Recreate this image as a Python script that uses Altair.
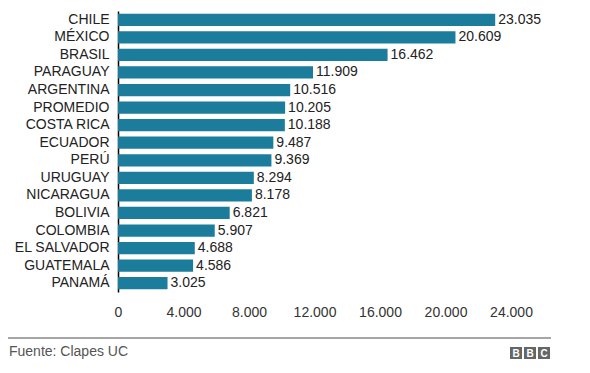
import altair as alt
import pandas as pd

paises = ["CHILE", "MÉXICO", "BRASIL", "PARAGUAY", "ARGENTINA", "PROMEDIO",
          "COSTA RICA", "ECUADOR", "PERÚ", "URUGUAY", "NICARAGUA", "BOLIVIA",
          "COLOMBIA", "EL SALVADOR", "GUATEMALA", "PANAMÁ"]
valores = [23035, 20609, 16462, 11909, 10516, 10205, 10188, 9487, 9369,
           8294, 8178, 6821, 5907, 4688, 4586, 3025]
ticks = [0, 4000, 8000, 12000, 16000, 20000, 24000]
fuente = "Fuente: Clapes UC"
logo = ["B", "B", "C"]

df = pd.DataFrame({"pais": paises, "valor": valores})
df["etiqueta"] = [f"{v:,}".replace(",", ".") for v in valores]

FONT = "Liberation Sans"
FS = 14
W, H = 393, 281

x = alt.X("valor:Q", scale=alt.Scale(domain=[0, 24000], nice=False),
          axis=alt.Axis(values=ticks, title=None, grid=False, domain=False, ticks=False,
                        labelFlush=False, labelOverlap=False,
                        labelPadding=13, labelFontSize=FS, labelColor="#333",
                        labelFont=FONT, labelExpr="replace(format(datum.value, ',d'), ',', '.')"))
y = alt.Y("pais:N", sort=paises, scale=alt.Scale(paddingInner=0.3, paddingOuter=0.15),
          axis=alt.Axis(title=None, ticks=False, domainColor="#000", domainWidth=1.5,
                        labelPadding=9, labelFontSize=FS, labelColor="#222", labelFont=FONT))

base = alt.Chart(df)
bars = base.mark_bar(color="#1b7c9c").encode(x=x, y=y)
labels = base.mark_text(align="left", baseline="middle", dx=3, fontSize=FS,
                        font=FONT, color="#222").encode(
    x="valor:Q", y=alt.Y("pais:N", sort=paises), text="etiqueta:N")

rule = alt.Chart(pd.DataFrame({"a": [0]})).mark_rule(color="#888", strokeWidth=1.5).encode(
    x=alt.value(-110), x2=alt.value(433), y=alt.value(327))
src = alt.Chart(pd.DataFrame({"t": [fuente]})).mark_text(
    align="left", baseline="middle", fontSize=FS, font=FONT, color="#555").encode(
    x=alt.value(-109), y=alt.value(341), text="t:N")

logo_df = pd.DataFrame({"l": logo, "i": list(range(len(logo)))})
logo_df["x0"] = 392 + logo_df["i"] * 14
logo_df["x1"] = logo_df["x0"] + 12
logo_df["xc"] = logo_df["x0"] + 6
boxes = alt.Chart(logo_df).mark_rect(color="#666").encode(
    x=alt.X("x0:Q", scale=None), x2="x1:Q", y=alt.value(336), y2=alt.value(348))
letters = alt.Chart(logo_df).mark_text(color="white", fontSize=10, fontWeight="bold",
                                       font=FONT, baseline="middle").encode(
    x=alt.X("xc:Q", scale=None), y=alt.value(342.5), text="l:N")

chart = alt.layer(bars, labels, rule, src, boxes, letters).properties(
    width=W, height=H,
    autosize=alt.AutoSizeParams(type="none"),
    padding={"left": 110, "top": 3, "right": 71, "bottom": 73},
).configure(background="white").configure_view(stroke=None)

chart.save("out.html", embed_options={"renderer": "svg", "actions": False})
